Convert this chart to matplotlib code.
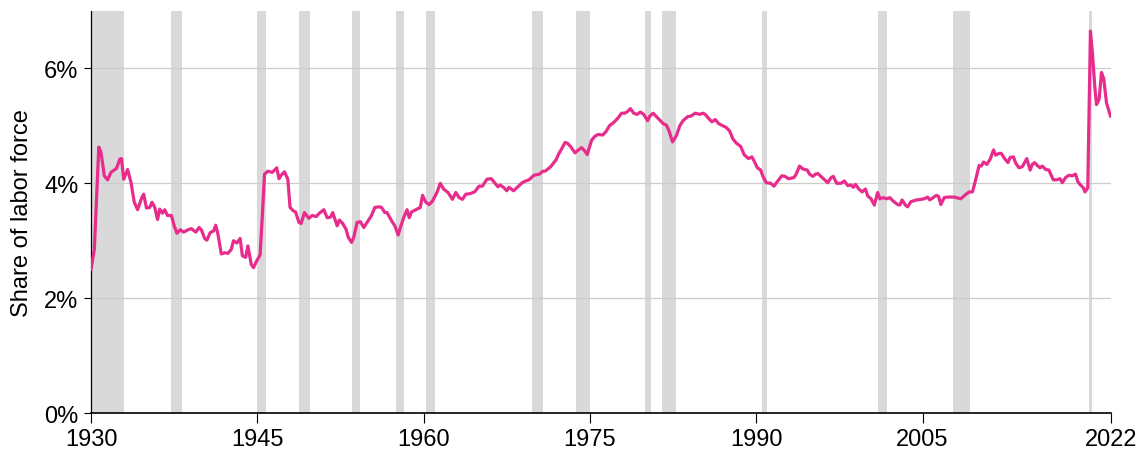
import matplotlib
matplotlib.use("Agg")
import matplotlib.pyplot as plt

# share of labor force (year, percent)
years = [
    1930.0, 1930.3, 1930.7, 1930.9, 1931.2, 1931.5, 1931.8, 1932.3, 1932.6, 1932.75,
    1932.95, 1933.3, 1933.6, 1933.9, 1934.2, 1934.6, 1934.75, 1935.0, 1935.3, 1935.5,
    1935.75, 1936.0, 1936.2, 1936.45, 1936.65, 1936.9, 1937.25, 1937.5, 1937.75, 1938.05,
    1938.35, 1938.75, 1939.05, 1939.45, 1939.75, 1939.95, 1940.25, 1940.45, 1940.75, 1941.05,
    1941.25, 1941.45, 1941.75, 1942.05, 1942.35, 1942.65, 1942.85, 1943.15, 1943.45, 1943.65,
    1943.95, 1944.15, 1944.45, 1944.65, 1944.95, 1945.25, 1945.45, 1945.65, 1945.95, 1946.35,
    1946.75, 1946.95, 1947.15, 1947.45, 1947.75, 1947.95, 1948.25, 1948.45, 1948.75, 1948.95,
    1949.25, 1949.65, 1949.95, 1950.3, 1950.6, 1951.0, 1951.3, 1951.6, 1951.8, 1952.2,
    1952.4, 1952.7, 1953.0, 1953.2, 1953.5, 1953.7, 1954.0, 1954.3, 1954.6, 1955.0,
    1955.3, 1955.6, 1956.0, 1956.2, 1956.5, 1956.7, 1957.1, 1957.4, 1957.7, 1957.9,
    1958.2, 1958.5, 1958.7, 1958.9, 1959.3, 1959.7, 1959.9, 1960.2, 1960.5, 1960.8,
    1961.2, 1961.5, 1961.8, 1962.2, 1962.6, 1962.9, 1963.2, 1963.5, 1963.8, 1964.2,
    1964.6, 1965.0, 1965.3, 1965.7, 1966.1, 1966.4, 1966.7, 1966.9, 1967.2, 1967.5,
    1967.7, 1968.1, 1968.5, 1968.9, 1969.2, 1969.5, 1969.95, 1970.45, 1970.75, 1970.95,
    1971.35, 1971.55, 1971.95, 1972.15, 1972.45, 1972.75, 1972.95, 1973.25, 1973.65, 1973.95,
    1974.25, 1974.55, 1974.75, 1975.15, 1975.45, 1975.75, 1976.15, 1976.45, 1976.75, 1977.15,
    1977.55, 1977.85, 1978.15, 1978.45, 1978.65, 1978.95, 1979.25, 1979.55, 1979.85, 1980.2,
    1980.4, 1980.7, 1981.0, 1981.3, 1981.6, 1981.9, 1982.1, 1982.45, 1982.8, 1983.1,
    1983.4, 1983.8, 1984.1, 1984.5, 1984.9, 1985.2, 1985.4, 1985.7, 1986.0, 1986.3,
    1986.6, 1987.0, 1987.3, 1987.6, 1987.9, 1988.2, 1988.6, 1988.9, 1989.3, 1989.6,
    1989.8, 1990.1, 1990.4, 1990.6, 1990.9, 1991.3, 1991.6, 1991.9, 1992.3, 1992.6,
    1992.9, 1993.4, 1993.6, 1993.9, 1994.2, 1994.6, 1994.8, 1995.1, 1995.35, 1995.55,
    1995.95, 1996.45, 1996.75, 1996.95, 1997.25, 1997.65, 1997.95, 1998.25, 1998.55, 1998.75,
    1998.95, 1999.25, 1999.55, 1999.85, 2000.05, 2000.35, 2000.65, 2000.95, 2001.15, 2001.45,
    2001.75, 2002.05, 2002.35, 2002.75, 2002.95, 2003.15, 2003.45, 2003.65, 2003.95, 2004.45,
    2004.85, 2005.15, 2005.45, 2005.65, 2005.95, 2006.25, 2006.45, 2006.65, 2006.95, 2007.25,
    2007.85, 2008.45, 2008.8, 2009.2, 2009.5, 2009.8, 2010.1, 2010.3, 2010.5, 2010.8,
    2011.1, 2011.4, 2011.6, 2011.9, 2012.1, 2012.4, 2012.7, 2012.9, 2013.2, 2013.4,
    2013.7, 2014.0, 2014.2, 2014.4, 2014.7, 2014.9, 2015.1, 2015.4, 2015.6, 2015.8,
    2016.1, 2016.4, 2016.6, 2016.8, 2017.1, 2017.4, 2017.6, 2017.9, 2018.2, 2018.5,
    2018.8, 2019.0, 2019.2, 2019.5, 2019.65, 2019.9, 2020.14, 2020.32, 2020.53, 2020.69,
    2020.92, 2021.14, 2021.34, 2021.59, 2021.95,
]
share = [
    2.50, 2.85, 4.63, 4.54, 4.13, 4.06, 4.19, 4.26, 4.42, 4.43,
    4.07, 4.24, 4.02, 3.67, 3.54, 3.76, 3.81, 3.57, 3.58, 3.67,
    3.58, 3.37, 3.55, 3.48, 3.54, 3.44, 3.44, 3.26, 3.13, 3.19,
    3.15, 3.19, 3.21, 3.15, 3.23, 3.19, 3.04, 3.01, 3.14, 3.17,
    3.27, 3.11, 2.77, 2.79, 2.78, 2.85, 3.00, 2.96, 3.04, 2.74,
    2.71, 2.91, 2.59, 2.53, 2.65, 2.75, 3.43, 4.16, 4.21, 4.19,
    4.27, 4.08, 4.14, 4.20, 4.07, 3.58, 3.52, 3.50, 3.32, 3.30,
    3.49, 3.39, 3.44, 3.42, 3.48, 3.54, 3.40, 3.41, 3.49, 3.26,
    3.36, 3.30, 3.20, 3.06, 2.97, 3.06, 3.32, 3.33, 3.23, 3.35,
    3.44, 3.58, 3.59, 3.58, 3.49, 3.49, 3.35, 3.26, 3.10, 3.23,
    3.40, 3.54, 3.40, 3.50, 3.54, 3.58, 3.79, 3.67, 3.63, 3.69,
    3.84, 4.00, 3.90, 3.84, 3.72, 3.84, 3.75, 3.72, 3.81, 3.82,
    3.85, 3.95, 3.95, 4.07, 4.08, 4.01, 3.94, 3.97, 3.93, 3.87,
    3.93, 3.87, 3.94, 4.01, 4.04, 4.06, 4.14, 4.16, 4.21, 4.21,
    4.27, 4.31, 4.41, 4.50, 4.60, 4.71, 4.70, 4.64, 4.53, 4.58,
    4.62, 4.56, 4.50, 4.75, 4.82, 4.85, 4.84, 4.90, 5.00, 5.06,
    5.14, 5.22, 5.22, 5.26, 5.30, 5.22, 5.20, 5.24, 5.20, 5.09,
    5.17, 5.22, 5.16, 5.10, 5.04, 5.01, 4.93, 4.72, 4.83, 5.00,
    5.09, 5.16, 5.17, 5.22, 5.20, 5.22, 5.20, 5.13, 5.07, 5.11,
    5.04, 5.00, 4.97, 4.91, 4.77, 4.70, 4.64, 4.50, 4.43, 4.46,
    4.39, 4.27, 4.23, 4.12, 4.01, 4.00, 3.95, 4.03, 4.13, 4.12,
    4.08, 4.10, 4.16, 4.30, 4.25, 4.23, 4.16, 4.12, 4.16, 4.17,
    4.10, 4.01, 4.10, 4.12, 4.00, 4.00, 4.04, 3.96, 3.97, 3.93,
    3.98, 3.90, 3.85, 3.90, 3.78, 3.73, 3.62, 3.84, 3.73, 3.75,
    3.73, 3.75, 3.69, 3.63, 3.62, 3.71, 3.62, 3.59, 3.68, 3.71,
    3.72, 3.73, 3.76, 3.71, 3.75, 3.79, 3.77, 3.63, 3.75, 3.76,
    3.76, 3.73, 3.79, 3.85, 3.85, 4.07, 4.31, 4.30, 4.37, 4.33,
    4.42, 4.58, 4.49, 4.52, 4.52, 4.43, 4.36, 4.45, 4.46, 4.35,
    4.27, 4.29, 4.36, 4.43, 4.23, 4.33, 4.36, 4.30, 4.27, 4.30,
    4.24, 4.23, 4.14, 4.06, 4.06, 4.08, 4.01, 4.10, 4.14, 4.13,
    4.16, 4.03, 3.98, 3.92, 3.85, 3.92, 6.65, 6.27, 5.69, 5.37,
    5.46, 5.93, 5.82, 5.40, 5.17,
]

# recession periods (start, end)
rec_start = [1929.5, 1937.25, 1945.0, 1948.75, 1953.5, 1957.5, 1960.25, 1969.75,
             1973.75, 1980.0, 1981.5, 1990.5, 2001.0, 2007.75, 2020.0]
rec_end = [1933.0, 1938.25, 1945.75, 1949.75, 1954.25, 1958.25, 1961.0, 1970.75,
           1975.0, 1980.5, 1982.75, 1991.0, 2001.75, 2009.25, 2020.25]

x_ticks = [1930, 1945, 1960, 1975, 1990, 2005, 2022]
y_ticks = [0, 2, 4, 6]
y_labels = ["0%", "2%", "4%", "6%"]

plt.rcParams["font.family"] = ["Liberation Sans", "DejaVu Sans"]

fig = plt.figure(figsize=(11.42, 4.56), dpi=100)
ax = fig.add_axes([0.0797, 0.0921, 0.8932, 0.8816])

for s, e in zip(rec_start, rec_end):
    ax.axvspan(s, e, color="#d9d9d9", lw=0, zorder=0)

for y in y_ticks[1:]:
    ax.axhline(y, color="#cccccc", lw=0.9, zorder=1)

ax.plot(years, share, color="#e82c8c", lw=2.3, zorder=3, solid_joinstyle="round")

ax.set_xlim(1930, 2022)
ax.set_ylim(0, 7)
ax.set_xticks(x_ticks)
ax.set_yticks(y_ticks)
ax.set_yticklabels(y_labels)
ax.tick_params(axis="both", labelsize=17, color="black", width=0.8)
ax.tick_params(axis="x", length=7, pad=4)
ax.tick_params(axis="y", length=5, pad=4)
ax.set_ylabel("Share of labor force", fontsize=17, labelpad=8)

for side in ["top", "right"]:
    ax.spines[side].set_visible(False)
ax.spines["left"].set_linewidth(0.9)
ax.spines["bottom"].set_linewidth(1.2)

fig.savefig("out.png", dpi=100)
